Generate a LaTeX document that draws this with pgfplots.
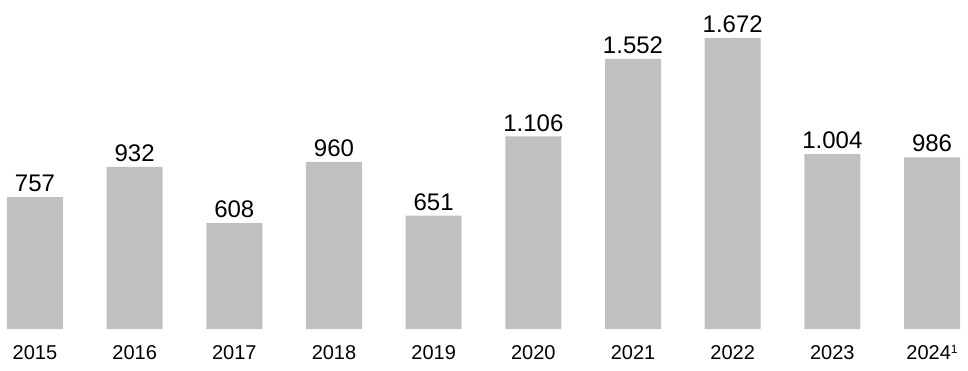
\documentclass[border=0pt]{standalone}
\usepackage{pgfplots}
\pgfplotsset{compat=1.18}
\usepackage{fontspec}
\setmainfont{Liberation Sans}
\definecolor{bargray}{HTML}{C0C0C0}
\begin{document}
\begin{tikzpicture}
\useasboundingbox (0,-42bp) rectangle (968bp,329bp);
\begin{axis}[
  at={(0,0)}, anchor=south west,
  scale only axis,
  width=968bp, height=329bp,
  xmin=-0.351, xmax=9.361,
  ymin=0, ymax=1890,
  axis line style={draw=none},
  major tick length=0pt,
  ytick=\empty,
  xtick={0,...,9},
  xticklabels={2015,2016,2017,2018,2019,2020,2021,2022,2023,{2024\raisebox{0.28em}{\fontsize{12bp}{14bp}\selectfont 1}}},
  xticklabel style={font=\fontsize{20bp}{24bp}\selectfont, inner sep=0pt, anchor=base, yshift=-30bp},
  ybar, bar width=56bp, bar shift=0pt,
  /pgf/number format/assume math mode=true,
  nodes near coords,
  nodes near coords style={font=\fontsize{24bp}{28bp}\selectfont, anchor=south, inner sep=0pt, yshift=5bp,
    /pgf/number format/.cd, fixed, precision=0, 1000 sep={.}, assume math mode=true},
  clip=false,
]
\addplot[fill=bargray, draw=none] coordinates {
(0,757) (1,932) (2,608) (3,960) (4,651) (5,1106) (6,1552) (7,1672) (8,1004) (9,986)
};
\end{axis}
\end{tikzpicture}
\end{document}
